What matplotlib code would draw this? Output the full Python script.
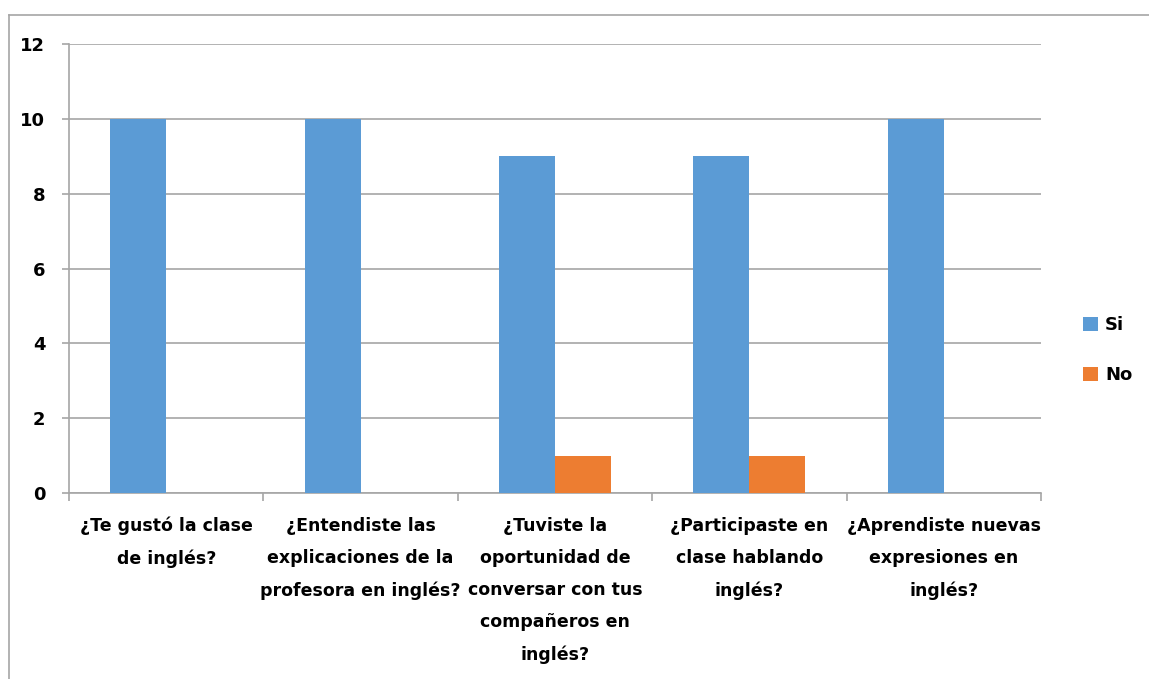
import numpy as np
import matplotlib.pyplot as plt
from matplotlib.lines import Line2D

# Data
preguntas = [
    "¿Te gustó la clase\nde inglés?",
    "¿Entendiste las\nexplicaciones de la\nprofesora en inglés?",
    "¿Tuviste la\noportunidad de\nconversar con tus\ncompañeros en\ninglés?",
    "¿Participaste en\nclase hablando\ninglés?",
    "¿Aprendiste nuevas\nexpresiones en\ninglés?",
]
si = [10, 10, 9, 9, 10]
no = [0, 0, 1, 1, 0]
y_ticks = [0, 2, 4, 6, 8, 10, 12]

plt.rcParams['font.family'] = ['DejaVu Sans']
plt.rcParams['font.weight'] = 'bold'

fig = plt.figure(figsize=(11.49, 6.79), dpi=100)
ax = fig.add_axes([69/1149, 1 - 493/679, (1041 - 69)/1149, (493 - 44)/679])

x = np.arange(len(preguntas))
w = 0.288
ax.bar(x - w/2, si, w, color='#5B9BD5', label='Si', zorder=3)
ax.bar(x + w/2, no, w, color='#ED7D31', label='No', zorder=3)

grid_c = '#a6a6a6'
ax.set_xlim(-0.5, len(preguntas) - 0.5)
ax.set_ylim(0, 12)
ax.set_yticks(y_ticks)
ax.set_yticklabels([str(v) for v in y_ticks], fontsize=13, fontweight='bold')
ax.yaxis.grid(True, color=grid_c, linewidth=1.2, zorder=0)
ax.tick_params(axis='y', length=5, color=grid_c, width=1.2, pad=12)

ax.set_xticks(x)
ax.set_xticklabels(preguntas, fontsize=12.5, fontweight='bold', linespacing=2.0)
ax.set_xticks(np.arange(-0.5, len(preguntas)), minor=True)
ax.tick_params(axis='x', which='major', length=0, pad=17)
ax.tick_params(axis='x', which='minor', length=6, color=grid_c, width=1.2)

for s in ['top', 'right']:
    ax.spines[s].set_visible(False)
for s in ['left', 'bottom']:
    ax.spines[s].set_color(grid_c)
    ax.spines[s].set_linewidth(1.2)

ax.legend(loc='center left', bbox_to_anchor=(1.027, 0.318), frameon=False,
          fontsize=13, handlelength=0.8, handleheight=0.8, labelspacing=1.8,
          handletextpad=0.4)

# outer chart frame (cut at right and bottom)
fig.add_artist(Line2D([9/1149, 1], [1 - 15/679, 1 - 15/679], color=grid_c, lw=1.2))
fig.add_artist(Line2D([9/1149, 9/1149], [0, 1 - 15/679], color=grid_c, lw=1.2))

plt.savefig("out.png", dpi=100)
